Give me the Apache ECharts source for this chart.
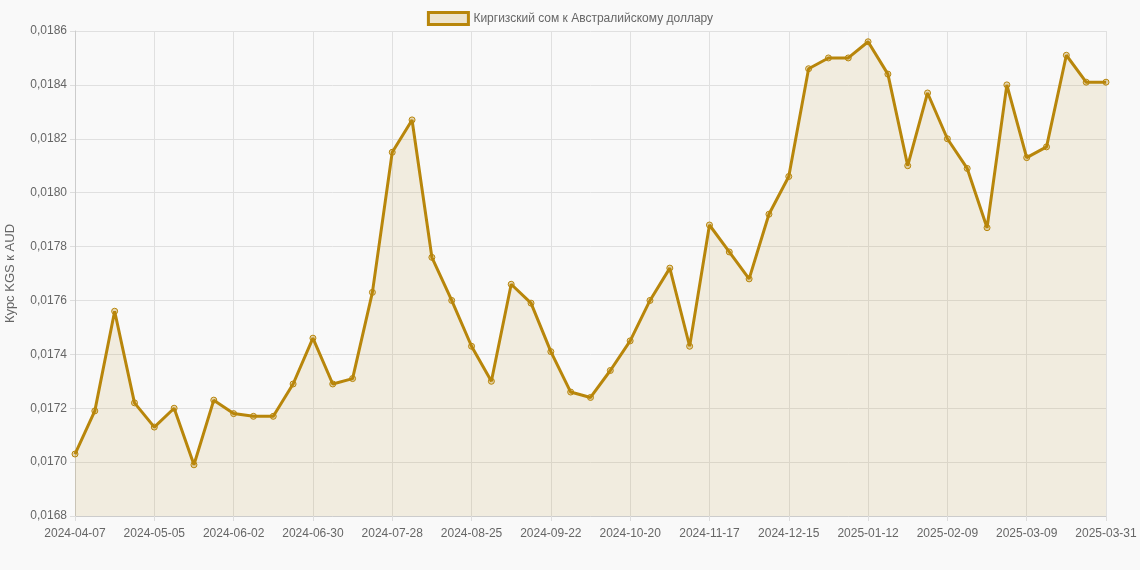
<!DOCTYPE html>
<html><head><meta charset="utf-8">
<script src="https://cdn.jsdelivr.net/npm/echarts@6/dist/echarts.min.js"></script>
<style>html,body{margin:0;background:#f9f9f9}#c{width:1140px;height:570px}</style>
</head><body><div id="c"></div>
<script>
const seriesName = 'Киргизский сом к Австралийскому доллару';
const values = [0.01703,0.01719,0.01756,0.01722,0.01713,0.01720,0.01699,0.01723,0.01718,0.01717,0.01717,0.01729,0.01746,0.01729,0.01731,0.01763,0.01815,0.01827,0.01776,0.01760,0.01743,0.01730,0.01766,0.01759,0.01741,0.01726,0.01724,0.01734,0.01745,0.01760,0.01772,0.01743,0.01788,0.01778,0.01768,0.01792,0.01806,0.01846,0.01850,0.01850,0.01856,0.01844,0.01810,0.01837,0.01820,0.01809,0.01787,0.01840,0.01813,0.01817,0.01851,0.01841,0.01841];
const categories = [];
(function(){let d=new Date(Date.UTC(2024,3,7));for(let i=0;i<52;i++){categories.push(d.toISOString().slice(0,10));d=new Date(d.getTime()+7*864e5);}categories.push('2025-03-31');})();
const chart = echarts.init(document.getElementById('c'));
chart.setOption({
  backgroundColor:'#f9f9f9',
  legend:{top:6,itemWidth:40,itemHeight:12,icon:'rect',textStyle:{color:'#666',fontSize:12,fontFamily:'Arial'},
    data:[{name:seriesName,itemStyle:{color:'rgba(184,134,11,0.18)',borderColor:'#b8860b',borderWidth:3}}]},
  grid:{left:75,right:34,top:31,bottom:54,containLabel:false,outerBoundsMode:'none'},
  xAxis:{type:'category',data:categories,boundaryGap:false,
    axisLine:{lineStyle:{color:'#ccc'}},axisTick:{show:true,interval:3,lineStyle:{color:'#ddd'}},
    axisLabel:{interval:3,color:'#666',fontSize:12,fontFamily:'Arial',margin:12},
    splitLine:{show:true,interval:3,lineStyle:{color:'#e0e0e0'}}},
  yAxis:{type:'value',min:0.0168,max:0.0186,interval:0.0002,name:'Курс KGS к AUD',nameLocation:'middle',nameGap:58,
    nameTextStyle:{color:'#666',fontSize:13,fontFamily:'Arial'},
    axisLine:{show:true,lineStyle:{color:'#ccc'}},axisTick:{show:true,lineStyle:{color:'#ddd'}},
    axisLabel:{color:'#666',fontSize:12,fontFamily:'Arial',formatter:v=>v.toFixed(4).replace('.',',')},
    splitLine:{lineStyle:{color:'#e0e0e0'}}},
  series:[{name:seriesName,type:'line',data:values,symbol:'circle',symbolSize:6,
    lineStyle:{color:'#b8860b',width:3},
    itemStyle:{color:'rgba(184,134,11,0.3)',borderColor:'#b8860b',borderWidth:1},
    areaStyle:{color:'rgba(184,134,11,0.15)'}}]
});
</script></body></html>
